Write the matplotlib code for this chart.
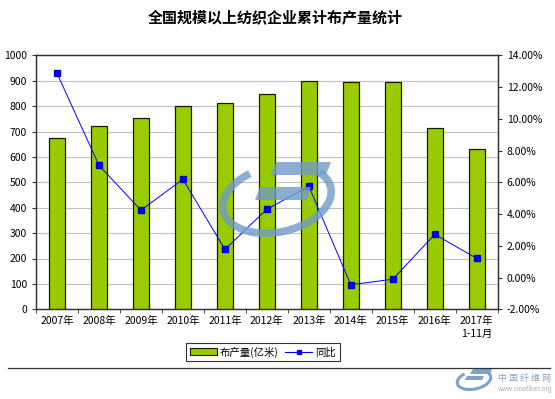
import matplotlib
matplotlib.use('Agg')
import matplotlib.pyplot as plt
from matplotlib.patches import Arc, Polygon, Rectangle
from matplotlib.lines import Line2D
from matplotlib.ticker import FuncFormatter, MultipleLocator
import numpy as np

plt.rcParams['font.family'] = ['Noto Sans CJK SC', 'DejaVu Sans']

# Data
years = ['2007年', '2008年', '2009年', '2010年', '2011年', '2012年',
         '2013年', '2014年', '2015年', '2016年', '2017年\n1-11月']
output = [673, 722, 753, 799, 813, 848, 900, 894, 894, 715, 631]          # 亿米
yoy = [12.87, 7.07, 4.24, 6.19, 1.78, 4.30, 5.75, -0.45, -0.11, 2.72, 1.21]  # %

W, H = 555, 399
fig = plt.figure(figsize=(W / 100, H / 100), dpi=100)
ax = fig.add_axes([36 / W, 1 - 309.3 / H, (497.7 - 36) / W, (309.3 - 55.3) / H])

x = np.arange(len(years))
ax.bar(x, output, width=0.38, color='#99CC00', edgecolor='#1a1a00', linewidth=0.9, zorder=3)
ax.set_xlim(-0.5, len(years) - 0.5)
ax.set_ylim(0, 1000)
ax.yaxis.set_major_locator(MultipleLocator(100))
ax.grid(axis='y', color='#c0c0c0', linewidth=0.8, zorder=0)
ax.set_axisbelow(True)

ax.set_xticks(x)
ax.set_xticklabels(years, fontsize=7.5, linespacing=1.3, va='top')
ax.set_xticks(np.arange(len(years) + 1) - 0.5, minor=True)
ax.tick_params(axis='x', which='major', length=0, pad=5)
ax.tick_params(axis='x', which='minor', length=3, direction='out', color='#333333')
ax.tick_params(axis='y', labelsize=7.5, length=3, color='#333333')
for s in ax.spines.values():
    s.set_color('#333333')
    s.set_linewidth(0.9)

ax2 = ax.twinx()
ax2.plot(x, yoy, color='#0000FF', linewidth=0.7, marker='s', markersize=4.5,
         markerfacecolor='#0000FF', markeredgecolor='#0000CC', zorder=5)
ax2.set_ylim(-2, 14)
ax2.yaxis.set_major_locator(MultipleLocator(2))
ax2.yaxis.set_major_formatter(FuncFormatter(lambda v, p: f'{v:.2f}%'))
ax2.tick_params(axis='y', labelsize=7.5, length=3, color='#333333')
for s in ax2.spines.values():
    s.set_color('#333333')
    s.set_linewidth(0.9)

fig.text(275 / W, 1 - 17 / H, '全国规模以上纺织企业累计布产量统计',
         ha='center', va='center', fontsize=10.8, fontweight='bold')

# legend
handles = [Rectangle((0, 0), 1, 1, facecolor='#99CC00', edgecolor='#1a1a00', linewidth=0.8),
           Line2D([], [], color='#0000FF', linewidth=0.8, marker='s', markersize=3.5)]
leg = fig.legend(handles, ['布产量(亿米)', '同比'], loc='center',
                 bbox_to_anchor=(263 / W, 1 - 352 / H), ncol=2, fontsize=7.5,
                 frameon=True, fancybox=False, edgecolor='black', handlelength=2.6,
                 handleheight=0.6, handletextpad=0.3, columnspacing=0.6,
                 borderpad=0.35, borderaxespad=0)
leg.get_frame().set_linewidth(0.8)

# overlay in pixel coordinates (y down) for watermark and footer
ov = fig.add_axes([0, 0, 1, 1], zorder=10)
ov.set_xlim(0, W)
ov.set_ylim(H, 0)
ov.axis('off')
ov.patch.set_alpha(0)

logo = '#6f9bc6'
ov.add_patch(Arc((277, 199), 110, 66, angle=-12, theta1=-20, theta2=235,
                 color=logo, linewidth=5.5, alpha=0.8))
ov.add_patch(Polygon([(276, 162), (331, 162), (326, 175), (270, 175)],
                     closed=True, color=logo, alpha=0.8, linewidth=0))
ov.add_patch(Polygon([(260, 187), (311, 187), (307, 200), (255, 200)],
                     closed=True, color=logo, alpha=0.8, linewidth=0))

ov.plot([8, 550], [368, 368], color='#333333', linewidth=0.9)

# footer logo
flogo = '#7fa3c8'
ov.add_patch(Arc((474, 380), 34, 18, angle=-12, theta1=-20, theta2=225,
                 color=flogo, linewidth=2.2))
ov.add_patch(Polygon([(473, 369), (492, 369), (490, 374), (470, 374)],
                     closed=True, color=flogo, linewidth=0))
ov.add_patch(Polygon([(467, 376), (484, 376), (482, 380), (465, 380)],
                     closed=True, color=flogo, linewidth=0))
ov.text(525, 378, '中 国 纤 维 网', ha='center', va='center', fontsize=6.5, color='#7fa3c8')
ov.text(525, 389, 'www.sinofiber.org', ha='center', va='center', fontsize=4.5, color='#a0acbc')

plt.savefig('out.png', dpi=100)
